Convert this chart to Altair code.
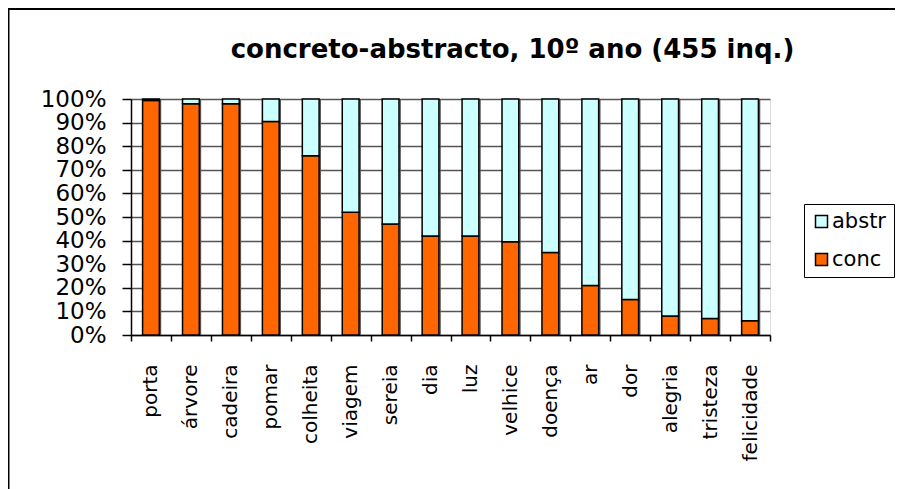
import altair as alt
import pandas as pd

categories = ["porta", "árvore", "cadeira", "pomar", "colheita", "viagem", "sereia", "dia",
              "luz", "velhice", "doença", "ar", "dor", "alegria", "tristeza", "felicidade"]
conc = [99.4, 98, 98, 90.5, 76, 52, 47, 42, 42, 39.5, 35, 21, 15, 8, 7, 6]
abstr = [0.6, 2, 2, 9.5, 24, 48, 53, 58, 58, 60.5, 65, 79, 85, 92, 93, 94]
series = ["abstr", "conc"]
colors = ["#CCFFFF", "#FF6600"]
y_ticks = [0, 0.1, 0.2, 0.3, 0.4, 0.5, 0.6, 0.7, 0.8, 0.9, 1.0]
title_text = "concreto-abstracto, 10º ano (455 inq.)"

FONT = "DejaVu Sans"
W, H = 639, 236

rows = []
for c, a, b in zip(categories, conc, abstr):
    rows.append({"cat": c, "serie": "conc", "valor": a, "ordem": 0})
    rows.append({"cat": c, "serie": "abstr", "valor": b, "ordem": 1})
df = pd.DataFrame(rows)

xenc = alt.X(
    "cat:N", sort=categories,
    scale=alt.Scale(paddingInner=0, paddingOuter=0),
    axis=alt.Axis(title=None, labelAngle=270, labelFont=FONT, labelFontSize=20,
                  labelColor="black", tickBand="extent", tickSize=6, tickColor="black",
                  tickWidth=1.5, domainColor="black", domainWidth=1.5, labelPadding=23,
                  grid=False, labelOverlap=False),
)

vlines = alt.Chart(pd.DataFrame({"cat": categories})).mark_rule(
    color="#555555", strokeWidth=1.5, xOffset=9.5
).encode(x=xenc, y=alt.value(0), y2=alt.value(H))

bars = alt.Chart(df).mark_bar(
    stroke="black", strokeWidth=1.5, width=alt.RelativeBandSize(0.42)
).encode(
    x=xenc,
    y=alt.Y("valor:Q", stack="normalize", scale=alt.Scale(domain=[0, 1]),
            axis=alt.Axis(title=None, format=".0%", values=y_ticks, labelFont=FONT,
                          labelFontSize=23, labelColor="black", tickSize=9,
                          tickColor="black", tickWidth=1.5, domainColor="black",
                          domainWidth=1.5, labelPadding=16, labelFlush=False,
                          labelOverlap=False, grid=True, gridColor="#555555",
                          gridWidth=1.5)),
    color=alt.Color("serie:N", scale=alt.Scale(domain=series, range=colors),
                    legend=alt.Legend(title=None, orient="none", legendX=673, legendY=105,
                                      strokeColor="black", fillColor="white", padding=7,
                                      symbolType="square", symbolSize=144,
                                      symbolStrokeColor="black", symbolStrokeWidth=1.5,
                                      labelFont=FONT, labelFontSize=21, labelColor="black",
                                      rowPadding=16, labelOffset=0)),
    order=alt.Order("ordem:Q", sort="ascending"),
)

one = pd.DataFrame({"t": [title_text]})
title = alt.Chart(one).mark_text(
    font=FONT, fontSize=26, fontWeight="bold", color="black", align="center", baseline="middle"
).encode(text="t:N", x=alt.value(381.5), y=alt.value(-49))

frame_top = alt.Chart(one).mark_rule(color="black", strokeWidth=2).encode(
    x=alt.value(-123), x2=alt.value(W + 125), y=alt.value(-90))
frame_left = alt.Chart(one).mark_rule(color="black", strokeWidth=2).encode(
    x=alt.value(-122.5), y=alt.value(-91), y2=alt.value(H + 154))

chart = alt.layer(vlines, bars, title, frame_top, frame_left).properties(
    width=W, height=H,
    autosize=alt.AutoSizeParams(type="none"),
    padding={"left": 123, "top": 91, "right": 125, "bottom": 154},
).configure_view(stroke="#808080", strokeWidth=2).configure(background="white")

chart.save("out.html", embed_options={"renderer": "svg", "actions": False})
